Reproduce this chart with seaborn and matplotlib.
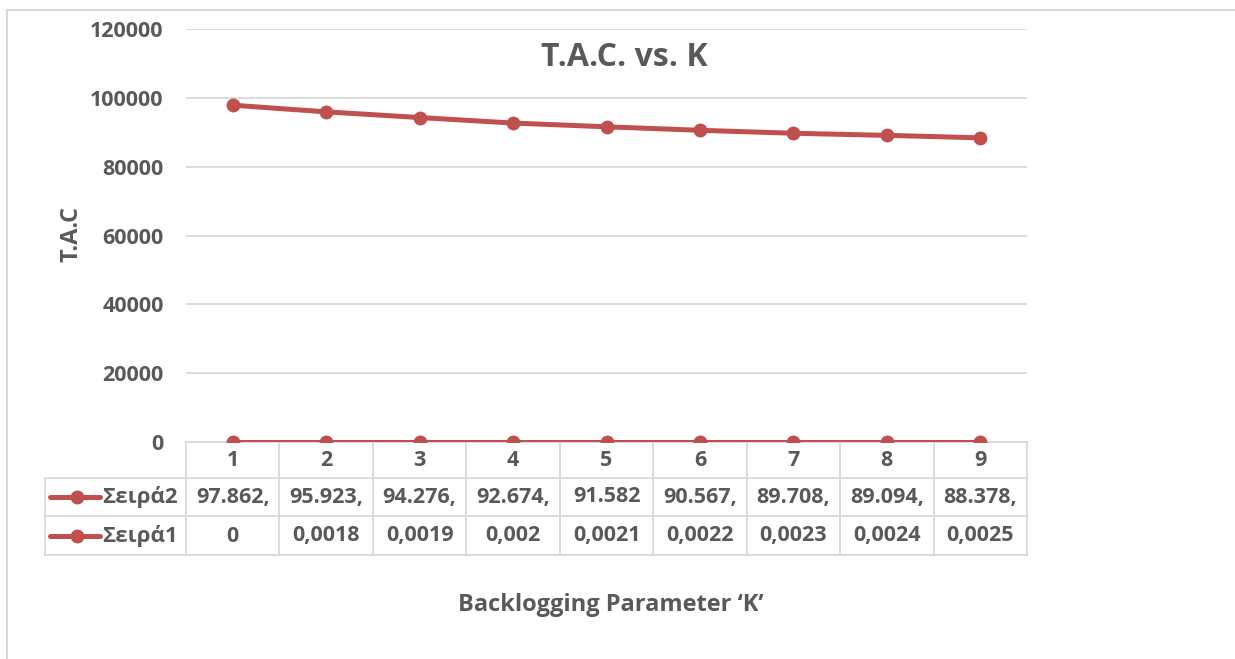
import matplotlib
matplotlib.use("Agg")
import matplotlib.pyplot as plt
import matplotlib.transforms as mtransforms
from matplotlib.lines import Line2D
from matplotlib.patches import Rectangle
import pandas as pd
import seaborn as sns

# Backlogging parameter K and total average cost (T.A.C)
categories = [1, 2, 3, 4, 5, 6, 7, 8, 9]
series2_name = "Σειρά2"
series2_values = [97862, 95923, 94276, 92674, 91582, 90567, 89708, 89094, 88378]
series2_labels = ["97.862,", "95.923,", "94.276,", "92.674,", "91.582",
                  "90.567,", "89.708,", "89.094,", "88.378,"]
series1_name = "Σειρά1"
series1_values = [0, 0.0018, 0.0019, 0.002, 0.0021, 0.0022, 0.0023, 0.0024, 0.0025]
series1_labels = ["0", "0,0018", "0,0019", "0,002", "0,0021",
                  "0,0022", "0,0023", "0,0024", "0,0025"]
y_ticks = [0, 20000, 40000, 60000, 80000, 100000, 120000]

title = "T.A.C. vs. K"
x_title = "Backlogging Parameter ‘K’"
y_title = "T.A.C"

sns.set_theme(style="white")
plt.rcParams["font.family"] = ["Open Sans", "DejaVu Sans"]
plt.rcParams["font.weight"] = "bold"

TEXT = "#595959"
LINE = "#C0504D"
GRID = "#D9D9D9"

df = pd.concat([
    pd.DataFrame({"K": categories, "value": series2_values, "series": series2_name}),
    pd.DataFrame({"K": categories, "value": series1_values, "series": series1_name}),
])

W, H = 1235, 659
fig = plt.figure(figsize=(W / 100, H / 100), dpi=100)
fig.patch.set_facecolor("white")

# chart area outline (only top and left edges fall inside the image)
fig.add_artist(Rectangle((7 / W, -0.1), 1.2, 1 - 10 / H + 0.1,
                         transform=fig.transFigure, fill=False,
                         edgecolor=GRID, lw=1.5))

left, right, top, bottom = 186, 1027, 29, 442
ax = fig.add_axes([left / W, 1 - bottom / H, (right - left) / W, (bottom - top) / H])

sns.lineplot(data=df, x="K", y="value", hue="series",
             palette={series2_name: LINE, series1_name: LINE},
             marker="o", markersize=10, markeredgewidth=0, lw=3.6,
             legend=False, ax=ax, zorder=3)

FS = 15.5      # ticks and table cells
FS_LAB = 17    # axis titles and series names
ax.set_xlim(0.5, 9.5)
ax.set_ylim(0, 120000)
ax.set_yticks(y_ticks)
ax.set_yticklabels([str(v) for v in y_ticks], color=TEXT, fontsize=FS, fontweight="bold")
ax.tick_params(axis="y", length=0, pad=16)
ax.set_xticks([])
ax.set_xlabel("")
ax.set_ylabel("")
ax.grid(axis="y", color=GRID, lw=1.3)
for s in ["top", "right", "left"]:
    ax.spines[s].set_visible(False)
ax.spines["bottom"].set_color(GRID)
ax.spines["bottom"].set_linewidth(1.3)

# data table below the axis
ph = bottom - top
def yfrac(py):
    return -(py - bottom) / ph

row_edges = [442, 478, 516, 555]
leg_left = (45 - left) / (right - left)
blend = mtransforms.blended_transform_factory(ax.transData, ax.transAxes)

lkw = dict(color=GRID, lw=1.3, clip_on=False)
# horizontal rules
ax.plot([0, 1], [yfrac(555)] * 2, transform=ax.transAxes, **lkw)
for py in row_edges[1:]:
    ax.plot([leg_left, 1], [yfrac(py)] * 2, transform=ax.transAxes, **lkw)
# vertical rules between categories
edges = [c - 0.5 for c in categories] + [categories[-1] + 0.5]
for xe in edges:
    ax.plot([xe, xe], [yfrac(442), yfrac(555)], transform=blend, **lkw)
ax.plot([leg_left, leg_left], [yfrac(478), yfrac(555)], transform=ax.transAxes, **lkw)

tkw = dict(color=TEXT, fontsize=FS, fontweight="bold", ha="center", va="center")
for c, l2, l1 in zip(categories, series2_labels, series1_labels):
    ax.text(c, yfrac(461), str(c), transform=blend, **tkw)
    ax.text(c, yfrac(497), l2, transform=blend, **tkw)
    ax.text(c, yfrac(536), l1, transform=blend, **tkw)

# legend keys inside the table
for name, py in [(series2_name, 497), (series1_name, 536)]:
    x0 = (50 - left) / (right - left)
    x1 = (100 - left) / (right - left)
    xm = (77 - left) / (right - left)
    ax.add_line(Line2D([x0, x1], [yfrac(py)] * 2, transform=ax.transAxes,
                       color=LINE, lw=3.6, clip_on=False, solid_capstyle="round"))
    ax.add_line(Line2D([xm], [yfrac(py)], transform=ax.transAxes, color=LINE,
                       marker="o", markersize=10, markeredgewidth=0, clip_on=False))
    ax.text((102 - left) / (right - left), yfrac(py), name, transform=ax.transAxes,
            color=TEXT, fontsize=FS_LAB - 1, fontweight="bold", ha="left", va="center")

fig.text(624 / W, 1 - 57 / H, title, color=TEXT, fontsize=23, fontweight="bold",
         ha="center", va="center")
fig.text(611 / W, 1 - 605 / H, x_title, color=TEXT, fontsize=FS_LAB, fontweight="bold",
         ha="center", va="center")
fig.text(72 / W, 1 - 234 / H, y_title, color=TEXT, fontsize=FS_LAB, fontweight="bold",
         ha="center", va="center", rotation=90)

fig.savefig("out.png", dpi=100, facecolor="white")
